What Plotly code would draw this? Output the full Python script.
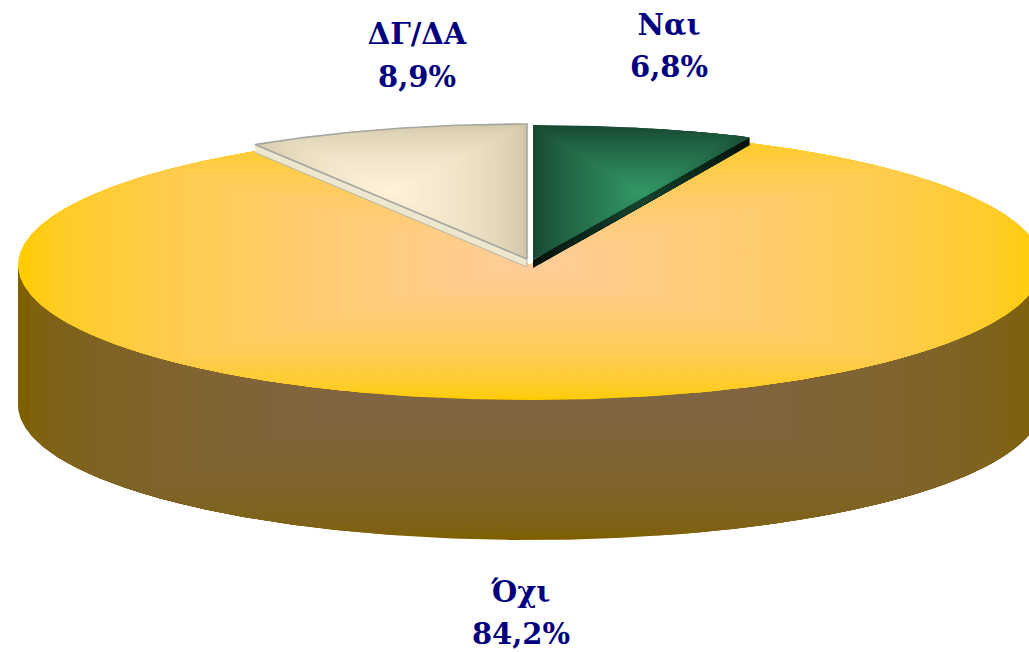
import numpy as np
import plotly.graph_objects as go

# ---- data ----
categories = ["Ναι", "Όχι", "ΔΓ/ΔΑ"]
values = [6.8, 84.2, 8.9]
label_x = [669, 521, 417]
label_y_name = [28, 595, 37]
label_y_pct = [70, 637, 80]

# ---- styles / geometry of the drawing ----
W, H = 1029, 652
RX, RY = 512, 135
MAIN = (530, 265)
MAIN_DEPTH = 140
NAI_CENTER = (533, 260)
DG_CENTER = (527, 259)
WEDGE_DEPTH = 8
NAI_STRETCH = 1.02
NAVY = "#000080"
BANDS = 44


def hexrgb(h):
    return np.array([int(h[i:i + 2], 16) for i in (1, 3, 5)], float)


def lerp(c0, c1, t):
    c = hexrgb(c0) * (1 - t) + hexrgb(c1) * t
    return "rgb(%d,%d,%d)" % tuple(np.round(c))


fig = go.Figure()


def poly(x, y, color, line=None, lw=0):
    fig.add_trace(go.Scatter(
        x=np.round(x, 2), y=np.round(y, 2), mode="lines", fill="toself", fillcolor=color,
        line=dict(color=line or color, width=lw if line else 0),
        hoverinfo="skip", showlegend=False))


def graded(x, y, outer, inner, bbox, gamma=1.0, bands=BANDS):
    """Rectangular path gradient: the shape clipped to nested boxes."""
    x0, x1, y0, y1 = bbox
    cx, cy, hw, hh = (x0 + x1) / 2, (y0 + y1) / 2, (x1 - x0) / 2, (y1 - y0) / 2
    poly(x, y, outer)
    for i in range(1, bands):
        s = 1 - i / bands
        t = (1 - s) ** gamma
        poly(np.clip(x, cx - s * hw, cx + s * hw), np.clip(y, cy - s * hh, cy + s * hh),
             lerp(outer, inner, t))


def arc(center, a0, a1, n=180, stretch=1.0):
    th = np.radians(np.linspace(a0, a1, n))
    return center[0] + RX * stretch * np.sin(th), center[1] - RY * np.cos(th)


def sector(center, a0, a1, n=180, m=60, stretch=1.0):
    ax, ay = arc(center, a0, a1, n, stretch)
    x = np.concatenate([np.linspace(center[0], ax[0], m), ax, np.linspace(ax[-1], center[0], m)])
    y = np.concatenate([np.linspace(center[1], ay[0], m), ay, np.linspace(ay[-1], center[1], m)])
    return x, y


total = sum(values)
ang_nai = 360 * values[0] / total
ang_oxi_end = ang_nai + 360 * values[1] / total
ang_dg = 360 - 360 * values[2] / total

# side wall of the big slice: lower half of the rim, pushed down, joined up to the rim ends
bx, by = arc(MAIN, 90, 270, 360)
wall_x = np.r_[bx[0], bx, bx[-1]]
wall_y = np.r_[MAIN[1], by + MAIN_DEPTH, MAIN[1]]
graded(wall_x, wall_y, "#7F6000", "#806650",
       (MAIN[0] - RX, MAIN[0] + RX, MAIN[1] - RY, MAIN[1] + RY + MAIN_DEPTH), gamma=0.45)

# top of the big slice
ox, oy = sector(MAIN, ang_nai, ang_oxi_end, 720)
graded(ox, oy, "#FFCC00", "#FFCC99",
       (MAIN[0] - RX, MAIN[0] + RX, MAIN[1] - RY, MAIN[1] + RY), gamma=0.55)

# Ναι wedge
tipx, tipy = arc(NAI_CENTER, ang_nai, ang_nai, 1, NAI_STRETCH)
sx = np.linspace(NAI_CENTER[0], tipx[0], 40)
sy = np.linspace(NAI_CENTER[1], tipy[0], 40)
graded(np.r_[sx, sx[::-1]], np.r_[sy, sy[::-1] + WEDGE_DEPTH], "#04120C", "#16452F",
       (sx[0], sx[-1], tipy[0], NAI_CENTER[1] + WEDGE_DEPTH), bands=16)
nx, ny = sector(NAI_CENTER, 0, ang_nai, 90, stretch=NAI_STRETCH)
graded(nx, ny, "#184A33", "#339966", (nx.min(), nx.max(), ny.min(), ny.max()), gamma=0.9, bands=36)

# ΔΓ/ΔΑ wedge
tipx, tipy = arc(DG_CENTER, ang_dg, ang_dg, 1)
sx = np.array([tipx[0], DG_CENTER[0]])
sy = np.array([tipy[0], DG_CENTER[1]])
poly(np.r_[sx, sx[::-1]], np.r_[sy, sy[::-1] + WEDGE_DEPTH], "#EDE7CF", "#B9B5A2", 1)
dx, dy = sector(DG_CENTER, ang_dg, 360, 90)
graded(dx, dy, "#CFC5A6", "#FFF2D9", (dx.min(), dx.max(), dy.min(), dy.max()), gamma=0.55, bands=36)
fig.add_trace(go.Scatter(x=np.round(dx, 2), y=np.round(dy, 2), mode="lines",
                         line=dict(color="#A6A6A0", width=1.6), hoverinfo="skip", showlegend=False))

# labels
pct = [f"{v:.1f}%".replace(".", ",") for v in values]
fig.add_trace(go.Scatter(x=label_x, y=label_y_name, mode="text", text=categories,
                         textposition="middle center", hoverinfo="skip", showlegend=False,
                         textfont=dict(family="DejaVu Serif", size=29, color=NAVY, weight="bold")))
fig.add_trace(go.Scatter(x=label_x, y=label_y_pct, mode="text", text=pct,
                         textposition="middle center", hoverinfo="skip", showlegend=False,
                         textfont=dict(family="DejaVu Serif", size=29, color=NAVY, weight="bold")))

fig.update_layout(
    width=W, height=H, margin=dict(l=0, r=0, t=0, b=0),
    paper_bgcolor="white", plot_bgcolor="white", showlegend=False,
    xaxis=dict(range=[0, W], visible=False, fixedrange=True),
    yaxis=dict(range=[H, 0], visible=False, fixedrange=True),
)
fig.write_html("out.html", config={"displayModeBar": False},
               post_script="document.body.style.margin='0';document.body.style.overflow='hidden';")
